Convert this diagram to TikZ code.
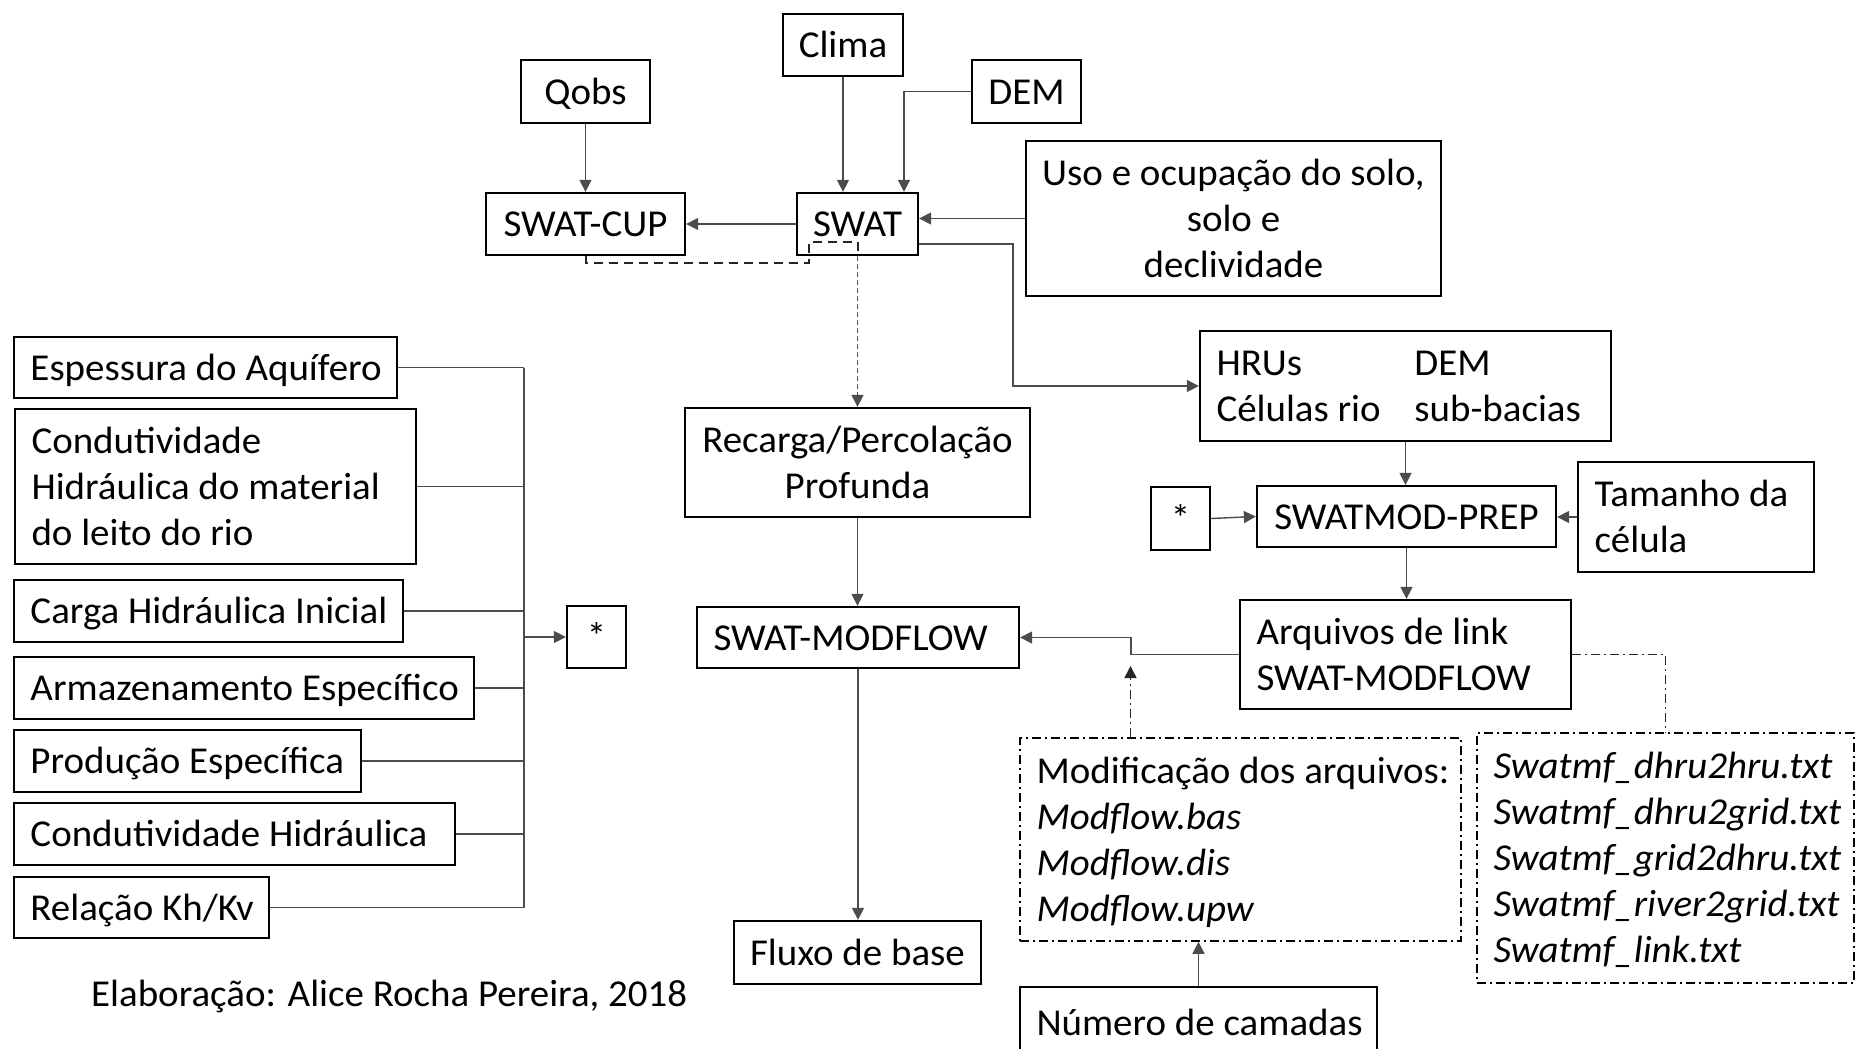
\documentclass[tikz,border=0pt]{standalone}
\usepackage{fontspec}
\setmainfont{Carlito}[FakeStretch=1.025]
\usetikzlibrary{arrows.meta}
\newcommand\bodyfont{\fontsize{38}{46}\selectfont\setbox\strutbox\hbox{\vrule height35.5pt depth10.5pt width0pt}}
\newcommand\Ct[1]{\begin{tabular}{@{}c@{}}#1\end{tabular}}
\newcommand\Lt[2]{\makebox[#1][l]{\begin{tabular}{@{}l@{}}#2\end{tabular}}}
\tikzset{
  box/.style={draw=black, line width=2.3pt, inner sep=0pt, font=\bodyfont},
  lbox/.style={box, inner xsep=16.5pt},
  dbox/.style={lbox, dash pattern=on 9pt off 4pt on 2pt off 4pt, line width=1.6pt},
  wire/.style={draw=black!70, line width=1.4pt},
  conn/.style={wire, -{Triangle[length=12pt,width=12pt]}},
  dashblk/.style={draw=black!85, line width=2pt, dash pattern=on 9pt off 6pt},
  dashgray/.style={draw=black!70, line width=1.3pt, dash pattern=on 5pt off 3pt, -{Triangle[length=12pt,width=12pt]}},
  dashdot/.style={draw=black!85, line width=1.5pt, dash pattern=on 9pt off 4pt on 2pt off 4pt},
}
\begin{document}
\begin{tikzpicture}[x=1pt,y=-1pt]
\useasboundingbox (0,0) rectangle (1856,1049);
% top row
\node[box, minimum width=120pt, minimum height=62pt] (clima) at (843,45) {\Ct{Clima}};
\node[box, minimum width=129pt, minimum height=63pt] (qobs) at (585.5,91.5) {\Ct{Qobs}};
\node[box, minimum width=109pt, minimum height=63pt] (dem) at (1026.5,91.5) {\Ct{DEM}};
\node[box, minimum width=199pt, minimum height=62pt] (cup) at (585.5,224) {\Ct{SWAT-CUP}};
\node[box, minimum width=121pt, minimum height=62pt] (swat) at (857.5,224) {\Ct{SWAT}};
\node[box, minimum width=415pt, minimum height=155pt] (uso) at (1233.5,218.5) {\Ct{Uso e ocupação do solo,\\solo e\\declividade}};
\node[lbox, minimum width=411pt, minimum height=110pt] (hrus) at (1405.5,386) {\Lt{378pt}{\makebox[198pt][l]{HRUs}DEM\\\makebox[198pt][l]{Células rio}sub-bacias}};
\node[box, minimum width=345pt, minimum height=109pt] (recarga) at (857.5,462.5) {\Ct{Recarga/Percolação\\Profunda}};
\node[lbox, minimum width=322pt, minimum height=61pt] (smf) at (858,637.5) {\Lt{289pt}{SWAT-MODFLOW}};
\node[box, minimum width=247pt, minimum height=63pt] (fluxo) at (857.5,952.5) {\Ct{Fluxo de base}};
% left column
\node[lbox, minimum width=383pt, minimum height=61pt] (esp) at (205.5,367.5) {\Lt{350pt}{Espessura do Aquífero}};
\node[lbox, minimum width=401pt, minimum height=155pt] (cond) at (215.5,486.5) {\Lt{368pt}{Condutividade\\Hidráulica do material\\do leito do rio}};
\node[lbox, minimum width=389pt, minimum height=62pt] (carga) at (208.5,611) {\Lt{356pt}{Carga Hidráulica Inicial}};
\node[lbox, minimum width=460pt, minimum height=62pt] (armaz) at (244,688) {\Lt{427pt}{Armazenamento Específico}};
\node[lbox, minimum width=347pt, minimum height=62pt] (prod) at (187.5,761) {\Lt{314pt}{Produção Específica}};
\node[lbox, minimum width=441pt, minimum height=62pt] (condh) at (234.5,834) {\Lt{408pt}{Condutividade Hidráulica}};
\node[lbox, minimum width=255pt, minimum height=61pt] (rel) at (141.5,907.5) {\Lt{222pt}{Relação Kh/Kv}};
\node[box, minimum width=59pt, minimum height=62pt] (starL) at (596.5,637) {\Ct{*}};
% right part
\node[box, minimum width=59pt, minimum height=63pt] (starR) at (1180.5,518.5) {\Ct{*}};
\node[box, minimum width=299pt, minimum height=61pt] (prep) at (1406.5,516.5) {\Ct{SWATMOD-PREP}};
\node[lbox, minimum width=236pt, minimum height=110pt] (tam) at (1696,517) {\Lt{203pt}{Tamanho da\\célula}};
\node[lbox, minimum width=331pt, minimum height=109pt] (arq) at (1405.5,654.5) {\Lt{298pt}{Arquivos de link\\SWAT-MODFLOW}};
\node[dbox, minimum width=441pt, minimum height=203pt] (mod) at (1240.5,839.5) {\Lt{408pt}{Modificação dos arquivos:\\\textit{Modflow.bas}\\\textit{Modflow.dis}\\\textit{Modflow.upw}}};
\node[dbox, minimum width=377pt, minimum height=250pt] (swmf) at (1665.5,858) {\Lt{344pt}{\textit{Swatmf\_dhru2hru.txt}\\\textit{Swatmf\_dhru2grid.txt}\\\textit{Swatmf\_grid2dhru.txt}\\\textit{Swatmf\_river2grid.txt}\\\textit{Swatmf\_link.txt}}};
\node[lbox, minimum width=357pt, minimum height=71pt] (num) at (1198.5,1022.5) {\Lt{324pt}{Número de camadas}};
\node[anchor=west, inner sep=0pt, font=\bodyfont] (elab) at (91,993.5) {\Ct{Elaboração: Alice Rocha Pereira, 2018}};
% connectors top
\draw[conn] (qobs.south) -- (cup.north);
\draw[conn] (clima.south) -- (clima.south |- swat.north);
\draw[conn] (dem.west) -| ([xshift=46.5pt]swat.north);
\draw[conn] (swat.west) -- (cup.east);
\draw[conn] (uso.west) -- (uso.west -| swat.east);
\coordinate (j1) at (1013,244);
\draw[conn] (swat.east |- j1) -- (j1) |- (hrus.west);
\coordinate (d1) at (585.5,263);
\coordinate (d2) at (809,263);
\coordinate (d3) at (809,242);
\coordinate (d4) at (857.5,242);
\draw[dashblk] (cup.south) -- (d1) -- (d2) -- (d3) -- (d4) -- (d4 |- swat.south);
\draw[dashgray] (d4 |- swat.south) -- (recarga.north);
\draw[conn] (recarga.south) -- (recarga.south |- smf.north);
\draw[conn] (smf.south) -- (smf.south |- fluxo.north);
% left bus
\coordinate (bt) at (524,367.5);
\draw[wire] (esp.east) -- (esp.east -| bt);
\draw[wire] (cond.east) -- (cond.east -| bt);
\draw[wire] (carga.east) -- (carga.east -| bt);
\draw[wire] (armaz.east) -- (armaz.east -| bt);
\draw[wire] (prod.east) -- (prod.east -| bt);
\draw[wire] (condh.east) -- (condh.east -| bt);
\draw[wire] (rel.east) -- (rel.east -| bt);
\draw[wire] (bt) -- (rel.east -| bt);
\draw[conn] (starL.west -| bt) -- (starL.west);
% right connectors
\draw[conn] (starR.east) -- (prep.west);
\draw[conn] (tam.west) -- (tam.west -| prep.east);
\draw[conn] (hrus.south) -- (hrus.south |- prep.north);
\draw[conn] (prep.south) -- (prep.south |- arq.north);
\coordinate (j2) at (1131,654.5);
\draw[conn] (arq.west) -- (j2) |- (smf.east);
\coordinate (j3) at (1130.5,666);
\draw[dashdot, -{Triangle[length=12pt,width=12pt]}] (mod.north -| j3) -- (j3);
\draw[conn] (num.north) -- (num.north |- mod.south);
\draw[dashdot] (arq.east) -| (swmf.north);
\end{tikzpicture}
\end{document}
